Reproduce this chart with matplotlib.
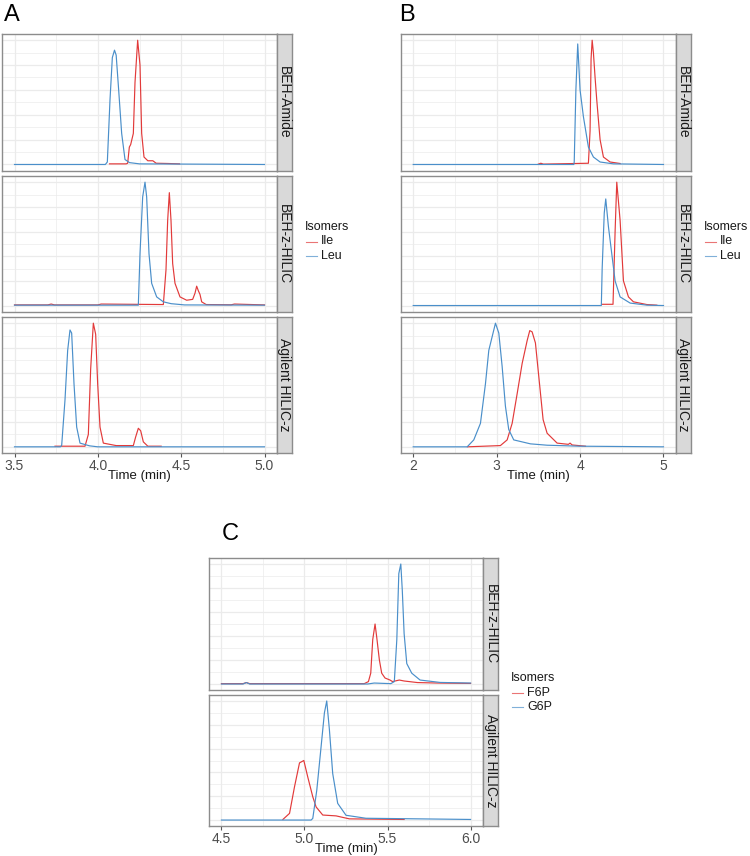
import matplotlib
matplotlib.use("Agg")
import matplotlib.pyplot as plt
from matplotlib.lines import Line2D

plt.rcParams['font.family'] = ['Liberation Sans', 'DejaVu Sans']

RED = '#E23A3A'
BLUE = '#4A8FCA'
GRID = '#EBEBEB'
EDGE = '#8C8C8C'

# ---- data (normalised intensity) ----
# panel A, BEH-Amide
a1_ile_t = [4.07, 4.17, 4.179, 4.189, 4.197, 4.213, 4.223, 4.239, 4.253, 4.263, 4.277, 4.30, 4.33, 4.35, 4.42, 4.49]
a1_ile_y = [0.005, 0.005, 0.01, 0.14, 0.16, 0.25, 0.66, 1.0, 0.8, 0.25, 0.06, 0.03, 0.03, 0.01, 0.008, 0.005]
a1_leu_t = [3.5, 4.045, 4.057, 4.073, 4.087, 4.100, 4.110, 4.125, 4.143, 4.163, 4.19, 4.25, 5.0]
a1_leu_y = [0, 0, 0.02, 0.52, 0.86, 0.92, 0.88, 0.6, 0.25, 0.04, 0.015, 0.005, 0]
# panel A, BEH-z-HILIC
a2_ile_t = [3.5, 3.7, 3.72, 3.74, 4.0, 4.02, 4.393, 4.409, 4.419, 4.429, 4.439, 4.449, 4.463, 4.493, 4.533,
            4.569, 4.583, 4.593, 4.603, 4.613, 4.623, 4.65, 4.8, 4.82, 5.0]
a2_ile_y = [0.005, 0.005, 0.012, 0.005, 0.005, 0.012, 0.008, 0.29, 0.69, 0.915, 0.69, 0.34, 0.18, 0.07, 0.043,
            0.05, 0.1, 0.157, 0.12, 0.09, 0.03, 0.008, 0.006, 0.012, 0.005]
a2_leu_t = [3.5, 4.243, 4.253, 4.269, 4.283, 4.293, 4.307, 4.323, 4.353, 4.393, 4.44, 4.52, 5.0]
a2_leu_y = [0.003, 0.003, 0.42, 0.88, 1.0, 0.88, 0.42, 0.18, 0.07, 0.03, 0.015, 0.005, 0.003]
# panel A, Agilent HILIC-z
a3_ile_t = [3.743, 3.923, 3.943, 3.957, 3.973, 3.987, 3.999, 4.013, 4.033, 4.11, 4.213, 4.227, 4.243,
            4.257, 4.273, 4.30, 4.38]
a3_ile_y = [0.005, 0.005, 0.1, 0.63, 1.0, 0.91, 0.51, 0.16, 0.03, 0.01, 0.01, 0.08, 0.15,
            0.13, 0.04, 0.005, 0.005]
a3_leu_t = [3.5, 3.775, 3.783, 3.803, 3.819, 3.833, 3.843, 3.857, 3.873, 3.893, 3.95, 4.0, 5.0]
a3_leu_y = [0, 0, 0.01, 0.38, 0.78, 0.945, 0.92, 0.51, 0.16, 0.03, 0.008, 0.0, 0]

# panel B, BEH-Amide
b1_ile_t = [3.5, 3.53, 3.56, 4.10, 4.12, 4.132, 4.145, 4.16, 4.18, 4.20, 4.24, 4.28, 4.36, 4.48]
b1_ile_y = [0.003, 0.01, 0.003, 0.01, 0.27, 0.85, 1.0, 0.9, 0.7, 0.52, 0.2, 0.06, 0.02, 0.008]
b1_leu_t = [2.0, 3.925, 3.93, 3.95, 3.972, 4.0, 4.04, 4.10, 4.16, 4.24, 4.40, 5.0]
b1_leu_y = [0, 0, 0.02, 0.6, 0.97, 0.6, 0.385, 0.14, 0.06, 0.02, 0.005, 0]
# panel B, BEH-z-HILIC
b2_ile_t = [4.26, 4.395, 4.42, 4.44, 4.48, 4.52, 4.58, 4.64, 4.80, 4.92]
b2_ile_y = [0.01, 0.01, 0.6, 1.0, 0.69, 0.2, 0.07, 0.03, 0.008, 0.003]
b2_leu_t = [2.0, 4.255, 4.265, 4.29, 4.308, 4.34, 4.38, 4.42, 4.48, 4.6, 4.8, 5.0]
b2_leu_y = [0, 0, 0.3, 0.75, 0.864, 0.64, 0.42, 0.2, 0.07, 0.02, 0.003, 0]
# panel B, Agilent HILIC-z
b3_ile_t = [2.65, 3.045, 3.126, 3.186, 3.246, 3.306, 3.366, 3.397, 3.425, 3.465, 3.505, 3.557, 3.605,
            3.725, 3.86, 3.88, 3.905, 4.065]
b3_ile_y = [0.0, 0.01, 0.056, 0.19, 0.43, 0.675, 0.86, 0.94, 0.93, 0.84, 0.57, 0.22, 0.11,
            0.03, 0.02, 0.03, 0.015, 0.005]
b3_leu_t = [2.0, 2.647, 2.726, 2.806, 2.866, 2.906, 2.946, 2.986, 3.026, 3.066, 3.105, 3.145, 3.205,
            3.405, 3.605, 4.0, 5.0]
b3_leu_y = [0, 0, 0.056, 0.19, 0.51, 0.78, 0.89, 1.0, 0.92, 0.65, 0.33, 0.14, 0.056,
            0.024, 0.013, 0.005, 0]

# panel C, BEH-z-HILIC
c1_f6p_t = [4.5, 4.63, 4.65, 4.67, 5.36, 5.385, 5.399, 5.411, 5.425, 5.435, 5.451, 5.465, 5.485, 5.515,
            5.53, 5.571, 5.6, 5.68, 5.8, 6.0]
c1_f6p_y = [0.003, 0.003, 0.012, 0.003, 0.003, 0.02, 0.09, 0.37, 0.5, 0.39, 0.2, 0.09, 0.05, 0.033,
            0.02, 0.033, 0.025, 0.012, 0.008, 0.005]
c1_g6p_t = [4.5, 4.63, 4.65, 4.67, 5.38, 5.42, 5.52, 5.541, 5.556, 5.568, 5.58, 5.589, 5.6, 5.616,
            5.646, 5.696, 5.817, 6.0]
c1_g6p_y = [0, 0, 0.012, 0, 0, 0.008, 0.003, 0.02, 0.37, 0.92, 1.0, 0.78, 0.42, 0.17,
            0.09, 0.033, 0.013, 0.008]
# panel C, Agilent HILIC-z
c2_f6p_t = [4.87, 4.91, 4.94, 4.97, 4.996, 5.02, 5.05, 5.07, 5.11, 5.19, 5.27, 5.6]
c2_f6p_y = [0.005, 0.056, 0.28, 0.48, 0.5, 0.36, 0.195, 0.11, 0.042, 0.035, 0.01, 0.005]
c2_g6p_t = [4.5, 5.04, 5.05, 5.074, 5.10, 5.12, 5.134, 5.15, 5.17, 5.2, 5.25, 5.37, 6.0]
c2_g6p_y = [0, 0, 0.014, 0.25, 0.616, 0.9, 1.0, 0.76, 0.39, 0.14, 0.04, 0.015, 0.005]

a_ticks = [3.5, 4.0, 4.5, 5.0]
a_labels = ['3.5', '4.0', '4.5', '5.0']
b_ticks = [2, 3, 4, 5]
b_labels = ['2', '3', '4', '5']
c_ticks = [4.5, 5.0, 5.5, 6.0]
c_labels = ['4.5', '5.0', '5.5', '6.0']

W, H = 750, 856
fig = plt.figure(figsize=(W / 100, H / 100), dpi=100)


def px_axes(l, t, r, b):
    return fig.add_axes([l / W, 1 - b / H, (r - l) / W, (b - t) / H])


def facet(l, t, r, b, strip_r, xlim, ticks, labels, traces, strip, bottom):
    ax = px_axes(l, t, r, b)
    for tt, yy, col in traces:
        ax.plot(tt, yy, color=col, lw=0.85)
    ax.set_xlim(*xlim)
    ax.set_ylim(-0.05, 1.05)
    step = ticks[1] - ticks[0]
    minor = [v + step / 2 for v in ticks[:-1]]
    ax.set_xticks(ticks)
    ax.set_xticks(minor, minor=True)
    ax.set_yticks([0, 0.2, 0.4, 0.6, 0.8, 1.0])
    ax.set_yticks([0.1, 0.3, 0.5, 0.7, 0.9], minor=True)
    ax.grid(True, which='major', color=GRID, lw=0.9)
    ax.grid(True, which='minor', color=GRID, lw=0.5)
    ax.set_axisbelow(True)
    ax.tick_params(axis='y', which='both', left=False, labelleft=False)
    ax.tick_params(axis='x', which='minor', bottom=False)
    if bottom:
        ax.set_xticklabels(labels)
        ax.tick_params(axis='x', which='major', length=3, color='#555555', pad=1.5,
                       labelsize=10, labelcolor='#4D4D4D')
        ax.set_xlabel('Time (min)', fontsize=9.5, labelpad=-2.5, color='#1A1A1A')
    else:
        ax.tick_params(axis='x', which='both', bottom=False, labelbottom=False)
    for s in ax.spines.values():
        s.set_color(EDGE)
        s.set_linewidth(1.0)
    # strip on the right
    sx = px_axes(r, t, strip_r, b)
    sx.set_facecolor('#D9D9D9')
    sx.set_xticks([])
    sx.set_yticks([])
    for s in sx.spines.values():
        s.set_color(EDGE)
        s.set_linewidth(1.0)
    sx.text(0.5, 0.5, strip, rotation=270, ha='center', va='center', fontsize=10,
            color='#1A1A1A', transform=sx.transAxes)
    return ax


def legend(x, y, names):
    fig.text(x / W, 1 - y / H, 'Isomers', fontsize=9, ha='left', va='center', color='#1A1A1A')
    for i, (name, col) in enumerate(zip(names, [RED, BLUE])):
        yy = 1 - (y + 14.5 * (i + 1)) / H
        fig.add_artist(Line2D([(x + 0.5) / W, (x + 12) / W], [yy, yy], color=col, lw=0.8, alpha=0.7))
        fig.text((x + 16) / W, yy, name, fontsize=9, ha='left', va='center', color='#1A1A1A')


rows = [(34, 170.7), (176, 311.7), (317, 453)]

# A
a_sets = [(a1_ile_t, a1_ile_y, a1_leu_t, a1_leu_y, 'BEH-Amide'),
          (a2_ile_t, a2_ile_y, a2_leu_t, a2_leu_y, 'BEH-z-HILIC'),
          (a3_ile_t, a3_ile_y, a3_leu_t, a3_leu_y, 'Agilent HILIC-z')]
for (t, b), (it, iy, lt, ly, name) in zip(rows, a_sets):
    facet(2, t, 277, b, 291.5, (3.425, 5.075), a_ticks, a_labels,
          [(it, iy, RED), (lt, ly, BLUE)], name, b == 453)

# B
b_sets = [(b1_ile_t, b1_ile_y, b1_leu_t, b1_leu_y, 'BEH-Amide'),
          (b2_ile_t, b2_ile_y, b2_leu_t, b2_leu_y, 'BEH-z-HILIC'),
          (b3_ile_t, b3_ile_y, b3_leu_t, b3_leu_y, 'Agilent HILIC-z')]
for (t, b), (it, iy, lt, ly, name) in zip(rows, b_sets):
    facet(400.7, t, 676, b, 690.7, (1.85, 5.15), b_ticks, b_labels,
          [(it, iy, RED), (lt, ly, BLUE)], name, b == 453)

# C
facet(209, 558, 483, 690, 498, (4.425, 6.075), c_ticks, c_labels,
      [(c1_f6p_t, c1_f6p_y, RED), (c1_g6p_t, c1_g6p_y, BLUE)], 'BEH-z-HILIC', False)
facet(209, 695, 483, 826, 498, (4.425, 6.075), c_ticks, c_labels,
      [(c2_f6p_t, c2_f6p_y, RED), (c2_g6p_t, c2_g6p_y, BLUE)], 'Agilent HILIC-z', True)

legend(305, 227, ['Ile', 'Leu'])
legend(704, 227, ['Ile', 'Leu'])
legend(511, 678, ['F6P', 'G6P'])

# panel letters
fig.text(4 / W, 1 - 15 / H, 'A', fontsize=17, ha='left', va='center')
fig.text(399 / W, 1 - 15 / H, 'B', fontsize=17, ha='left', va='center')
fig.text(222 / W, 1 - 534 / H, 'C', fontsize=17, ha='left', va='center')

fig.savefig('out.png', dpi=100)
